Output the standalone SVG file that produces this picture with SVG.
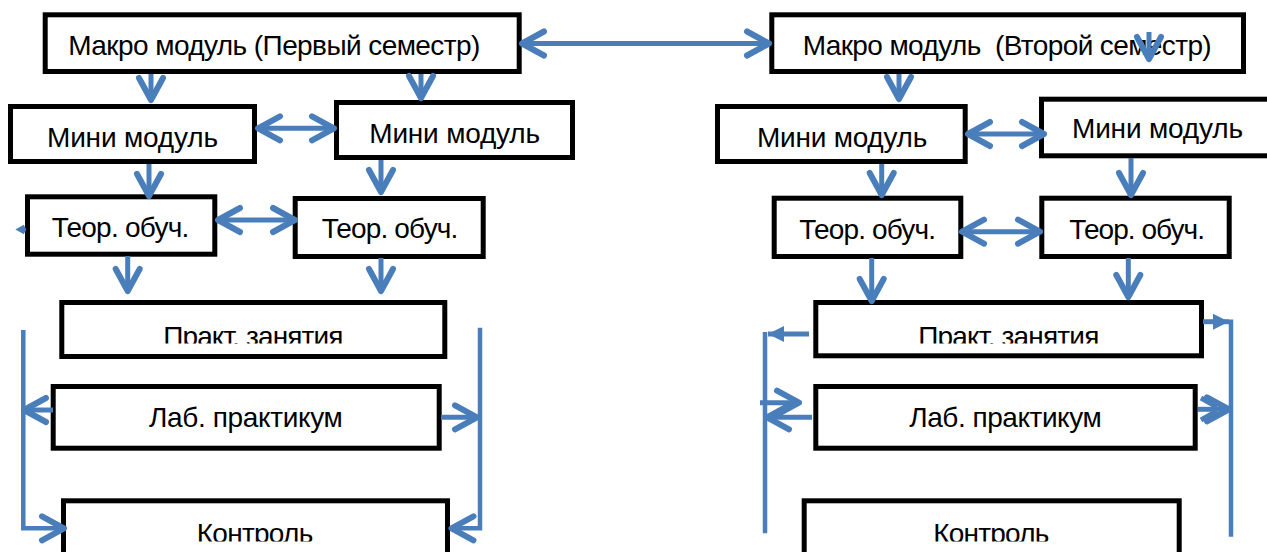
<svg xmlns="http://www.w3.org/2000/svg" width="1267" height="552" viewBox="0 0 1267 552">
  <style>
    .box { fill: #ffffff; stroke: #000000; stroke-width: 5; }
    .lbl { font-family: "Liberation Sans", Arial, sans-serif; font-size: 28px; fill: #000000; }
    .conn { fill: none; stroke: #4A7EBB; stroke-width: 5; stroke-linecap: butt; stroke-linejoin: miter; }
    .arr { marker-end: url(#open); }
    .arr2 { marker-start: url(#open); marker-end: url(#open); }
    .rail { fill: none; stroke: #4A7EBB; stroke-width: 4.5; }
  </style>
  <defs>
    <marker id="open" markerUnits="userSpaceOnUse" viewBox="-30 -20 40 40" markerWidth="40" markerHeight="40" refX="0" refY="0" orient="auto-start-reverse">
      <path d="M-22,-12 L0,0 L-22,12" fill="none" stroke="#4A7EBB" stroke-width="6" stroke-linecap="round" stroke-linejoin="round"/>
    </marker>
    <marker id="tri" markerUnits="userSpaceOnUse" viewBox="-20 -12 24 24" markerWidth="24" markerHeight="24" refX="0" refY="0" orient="auto">
      <path d="M-16,-8 L0,0 L-16,8 Z" fill="#4A7EBB"/>
    </marker>
    <clipPath id="clipPr1"><rect x="60" y="300" width="388" height="43.5"/></clipPath>
    <clipPath id="clipPr2"><rect x="814" y="300" width="390" height="43.5"/></clipPath>
    <clipPath id="clipK1"><rect x="61" y="498" width="389" height="43.5"/></clipPath>
    <clipPath id="clipK2"><rect x="802" y="498" width="380" height="43.5"/></clipPath>
  </defs>

  <!-- first semester -->
  <g id="macro1">
    <rect class="box" x="45.2" y="14.8" width="474" height="56.7"/>
    <text class="lbl" x="68.3" y="54.5" textLength="412">Макро модуль (Первый семестр)</text>
  </g>
  <g id="mini1">
    <rect class="box" x="10.5" y="106.5" width="244" height="55"/>
    <text class="lbl" x="47" y="147" textLength="171">Мини модуль</text>
  </g>
  <g id="mini2">
    <rect class="box" x="336.5" y="102.5" width="236" height="55"/>
    <text class="lbl" x="369.3" y="143.3" textLength="170.7">Мини модуль</text>
  </g>
  <g id="teor1">
    <rect class="box" x="27.5" y="196.8" width="187.3" height="57.4"/>
    <text class="lbl" x="51.7" y="236.7" textLength="137.6">Теор. обуч.</text>
  </g>
  <g id="teor2">
    <rect class="box" x="295.2" y="198.5" width="188" height="58"/>
    <text class="lbl" x="321.7" y="238.3" textLength="136.6">Теор. обуч.</text>
  </g>
  <g id="prakt1">
    <rect class="box" x="61.8" y="302.5" width="383" height="54"/>
    <text class="lbl" x="163.3" y="345.8" textLength="180" clip-path="url(#clipPr1)">Практ. занятия</text>
  </g>
  <g id="lab1">
    <rect class="box" x="53.2" y="386.5" width="386" height="61.7"/>
    <text class="lbl" x="149" y="426.7" textLength="193.7">Лаб. практикум</text>
  </g>
  <g id="kontrol1">
    <rect class="box" x="63.5" y="500.8" width="384" height="60"/>
    <text class="lbl" x="196.7" y="543" textLength="116.6" clip-path="url(#clipK1)">Контроль</text>
  </g>

  <!-- second semester -->
  <g id="macro2">
    <rect class="box" x="771.8" y="14.8" width="471.7" height="56.7"/>
    <text class="lbl" x="802.7" y="54.5" textLength="409" xml:space="preserve">Макро модуль  (Второй семестр)</text>
  </g>
  <g id="mini3">
    <rect class="box" x="717.5" y="106.5" width="247.7" height="55"/>
    <text class="lbl" x="757" y="146.5" textLength="170.3">Мини модуль</text>
  </g>
  <g id="mini4">
    <rect class="box" x="1041.5" y="99.2" width="240" height="56.6"/>
    <text class="lbl" x="1072" y="138" textLength="171">Мини модуль</text>
  </g>
  <g id="teor3">
    <rect class="box" x="774.2" y="198.2" width="186.6" height="58.3"/>
    <text class="lbl" x="799.3" y="239.3" textLength="136.7">Теор. обуч.</text>
  </g>
  <g id="teor4">
    <rect class="box" x="1041.8" y="198.2" width="187.4" height="58.3"/>
    <text class="lbl" x="1069.3" y="239.3" textLength="135.7">Теор. обуч.</text>
  </g>
  <g id="prakt2">
    <rect class="box" x="815.8" y="302.5" width="385.7" height="53.3"/>
    <text class="lbl" x="918.3" y="345.8" textLength="181" clip-path="url(#clipPr2)">Практ. занятия</text>
  </g>
  <g id="lab2">
    <rect class="box" x="815.8" y="386.5" width="379.4" height="61.7"/>
    <text class="lbl" x="909.3" y="426.7" textLength="192.4">Лаб. практикум</text>
  </g>
  <g id="kontrol2">
    <rect class="box" x="804.2" y="500.8" width="375" height="60"/>
    <text class="lbl" x="933.3" y="543" textLength="116" clip-path="url(#clipK2)">Контроль</text>
  </g>

  <!-- connectors -->
  <g id="connectors">
    <!-- between the two macro modules -->
    <line class="conn arr2" x1="522" y1="43.5" x2="769" y2="43.5"/>

    <!-- first semester flow -->
    <line class="conn arr" x1="151" y1="74" x2="151" y2="100"/>
    <line class="conn arr" x1="421" y1="74" x2="421" y2="98"/>
    <line class="conn arr2" x1="258" y1="128.3" x2="334" y2="128.3"/>
    <line class="conn arr" x1="149" y1="164" x2="149" y2="196"/>
    <line class="conn arr" x1="381" y1="160" x2="381" y2="192"/>
    <line class="conn arr2" x1="218" y1="220" x2="295" y2="220"/>
    <line class="conn arr" x1="127.7" y1="256" x2="127.7" y2="291"/>
    <line class="conn arr" x1="381" y1="258" x2="381" y2="291"/>
    <path class="conn" d="M25,227 L20.5,229.5 L25,232" stroke-width="3"/>

    <!-- left rail -->
    <line class="conn arr" x1="53" y1="410" x2="24" y2="410"/>
    <polyline class="rail arr" points="23.3,330 23.3,528.3 64,528.3"/>
    <!-- right rail -->
    <line class="conn arr" x1="441" y1="417.3" x2="477" y2="417.3"/>
    <polyline class="rail arr" points="480,327.7 480,528.3 451.5,528.3"/>

    <!-- second semester flow -->
    <line class="conn arr" x1="1149" y1="32" x2="1149" y2="59"/>
    <line class="conn arr" x1="899" y1="74" x2="899" y2="99"/>
    <line class="conn arr2" x1="968" y1="134" x2="1044" y2="134"/>
    <line class="conn arr" x1="881.7" y1="164" x2="881.7" y2="195"/>
    <line class="conn arr" x1="1131" y1="158" x2="1131" y2="195"/>
    <line class="conn arr2" x1="962" y1="231.7" x2="1040" y2="231.7"/>
    <line class="conn arr" x1="871.7" y1="258" x2="871.7" y2="301"/>
    <line class="conn arr" x1="1128.3" y1="258" x2="1128.3" y2="297"/>

    <!-- left rail -->
    <line class="conn" x1="809" y1="334" x2="768" y2="334" marker-end="url(#tri)"/>
    <line class="rail" x1="765" y1="332" x2="765" y2="533.3"/>
    <line class="conn arr" x1="760" y1="402.7" x2="799" y2="402.7"/>
    <line class="conn arr" x1="812" y1="417.3" x2="767" y2="417.3"/>
    <!-- right rail -->
    <line class="conn" x1="1203" y1="321.7" x2="1229" y2="321.7" marker-end="url(#tri)"/>
    <line class="rail" x1="1231" y1="319.5" x2="1231" y2="536.7"/>
    <line class="conn arr" x1="1198" y1="409.3" x2="1229" y2="409.3"/>
    <path class="conn" d="M1201,398 L1217,407 M1201,420 L1217,411" stroke-width="5" stroke-linecap="round"/>
  </g>
</svg>
